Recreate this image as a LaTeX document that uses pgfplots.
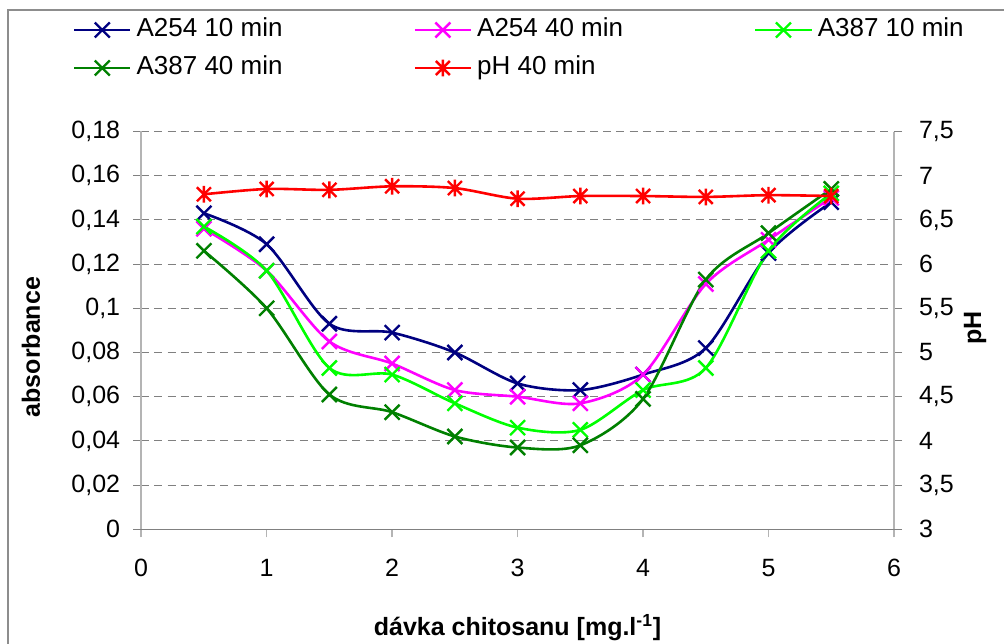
\documentclass[border=0pt]{standalone}
\usepackage{fontspec}
\setmainfont{Liberation Sans}
\usepackage{pgfplots}
\pgfplotsset{compat=1.18}
\definecolor{cnavy}{RGB}{0,0,128}
\definecolor{cmag}{RGB}{255,0,255}
\definecolor{clime}{RGB}{0,255,0}
\definecolor{cdgreen}{RGB}{0,128,0}
\definecolor{cred}{RGB}{255,0,0}
\definecolor{gridgray}{RGB}{128,128,128}
\definecolor{axgray}{RGB}{180,180,180}
\pgfdeclareplotmark{xstar}{%
  \pgfpathmoveto{\pgfqpoint{-\pgfplotmarksize}{-\pgfplotmarksize}}%
  \pgfpathlineto{\pgfqpoint{\pgfplotmarksize}{\pgfplotmarksize}}%
  \pgfpathmoveto{\pgfqpoint{-\pgfplotmarksize}{\pgfplotmarksize}}%
  \pgfpathlineto{\pgfqpoint{\pgfplotmarksize}{-\pgfplotmarksize}}%
  \pgfpathmoveto{\pgfqpoint{0pt}{-1.2\pgfplotmarksize}}%
  \pgfpathlineto{\pgfqpoint{0pt}{1.2\pgfplotmarksize}}%
  \pgfusepathqstroke}
\pgfplotsset{
  absser/.style={smooth, tension=0.5, line width=1.3pt, mark=x, mark size=5.3pt,
    mark options={solid, line width=1.2pt}},
  phser/.style={smooth, tension=0.5, line width=1.3pt, color=cred, mark=xstar, mark size=3.5pt,
    mark options={solid, line width=1.2pt}},
}
\begin{document}
\begin{tikzpicture}
\useasboundingbox (0,0) rectangle (502pt,321.5pt);
\begin{axis}[
  at={(70.6pt,56.85pt)}, anchor=south west,
  scale only axis, width=376.4pt, height=198.9pt,
  xmin=0, xmax=6, ymin=0, ymax=0.18,
  xtick={0,1,2,3,4,5,6},
  ytick={0,0.02,0.04,0.06,0.08,0.1,0.12,0.14,0.16,0.18},
  axis x line*=bottom, axis y line*=left,
  axis line style={-},
  x axis line style={draw=gridgray, line width=0.6pt},
  y axis line style={draw=axgray, line width=0.8pt},
  tick align=outside, major tick length=4pt,
  xtick style={draw=axgray, line width=0.8pt},
  ytick style={draw=gridgray, line width=0.5pt},
  ymajorgrids,
  major grid style={draw=gridgray, line width=0.5pt, dash pattern=on 4pt off 2.6pt},
  tick label style={font=\fontsize{12.5}{14}\selectfont},
  xticklabel style={yshift=-7.5pt},
  yticklabel style={xshift=-3pt},
  /pgf/number format/assume math mode=true,
  /pgf/number format/use comma,
  /pgf/number format/1000 sep={},
  yticklabel style={/pgf/number format/fixed, /pgf/number format/precision=2},
  xlabel={\textbf{dávka chitosanu [mg.l\textsuperscript{-1}]}},
  xlabel style={font=\fontsize{12.5}{14}\selectfont, at={(axis description cs:0.5,-0.248)}, anchor=center},
  ylabel={\textbf{absorbance}},
  ylabel style={font=\fontsize{12.5}{14}\selectfont, at={(axis description cs:-0.1464,0.458)}, anchor=center},
  legend columns=3,
  legend style={at={(axis description cs:-0.0906,1.2853)}, anchor=north west,
    draw=none, fill=none, inner sep=0pt, outer sep=0pt,
    font=\fontsize{13}{14}\selectfont,
    nodes={text height=9pt, text depth=3pt, inner ysep=0pt, inner xsep=2.5pt},
    row sep=7pt,
    /tikz/every even column/.append style={column sep=63pt}},
  legend cell align=left,
  legend image code/.code={\draw[mark repeat=2, mark phase=2, #1] plot coordinates {(0pt,0pt) (14pt,0pt) (28pt,0pt)};},
]
\addplot[absser, color=cnavy] coordinates {
 (0.5,0.143) (1,0.129) (1.5,0.093) (2,0.089) (2.5,0.080) (3,0.066)
 (3.5,0.063) (4,0.070) (4.5,0.082) (5,0.125) (5.5,0.148)};
\addlegendentry{A254 10 min}
\addplot[absser, color=cmag] coordinates {
 (0.5,0.136) (1,0.117) (1.5,0.085) (2,0.075) (2.5,0.063) (3,0.060)
 (3.5,0.057) (4,0.070) (4.5,0.111) (5,0.131) (5.5,0.150)};
\addlegendentry{A254 40 min}
\addplot[absser, color=clime] coordinates {
 (0.5,0.137) (1,0.117) (1.5,0.073) (2,0.070) (2.5,0.057) (3,0.046)
 (3.5,0.045) (4,0.063) (4.5,0.073) (5,0.126) (5.5,0.152)};
\addlegendentry{A387 10 min}
\addplot[absser, color=cdgreen] coordinates {
 (0.5,0.126) (1,0.100) (1.5,0.061) (2,0.053) (2.5,0.042) (3,0.037)
 (3.5,0.038) (4,0.059) (4.5,0.113) (5,0.134) (5.5,0.154)};
\addlegendentry{A387 40 min}
\addlegendimage{phser}
\addlegendentry{pH 40 min}
\end{axis}
\begin{axis}[
  at={(70.6pt,56.85pt)}, anchor=south west,
  scale only axis, width=376.4pt, height=198.9pt,
  xmin=0, xmax=6, ymin=3, ymax=7.5,
  axis x line=none, axis y line*=right,
  axis line style={-},
  y axis line style={draw=axgray, line width=0.8pt},
  tick align=outside, major tick length=4pt,
  ytick style={draw=gridgray, line width=0.5pt},
  ytick={3,3.5,4,4.5,5,5.5,6,6.5,7,7.5},
  tick label style={font=\fontsize{12.5}{14}\selectfont},
  yticklabel style={xshift=5pt},
  /pgf/number format/assume math mode=true,
  /pgf/number format/use comma,
  yticklabel style={/pgf/number format/fixed, /pgf/number format/precision=1},
  ylabel={\textbf{pH}},
  ylabel style={font=\fontsize{12.5}{14}\selectfont, at={(axis description cs:1.1076,0.506)}, anchor=center},
]
\addplot[phser] coordinates {
 (0.5,6.79) (1,6.85) (1.5,6.84) (2,6.88) (2.5,6.86) (3,6.74)
 (3.5,6.77) (4,6.77) (4.5,6.76) (5,6.78) (5.5,6.77)};
\end{axis}
\draw[color=gridgray!90, line width=0.6pt] (4pt,-10pt) -- (4pt,316.5pt) -- (520pt,316.5pt);
\end{tikzpicture}
\end{document}
